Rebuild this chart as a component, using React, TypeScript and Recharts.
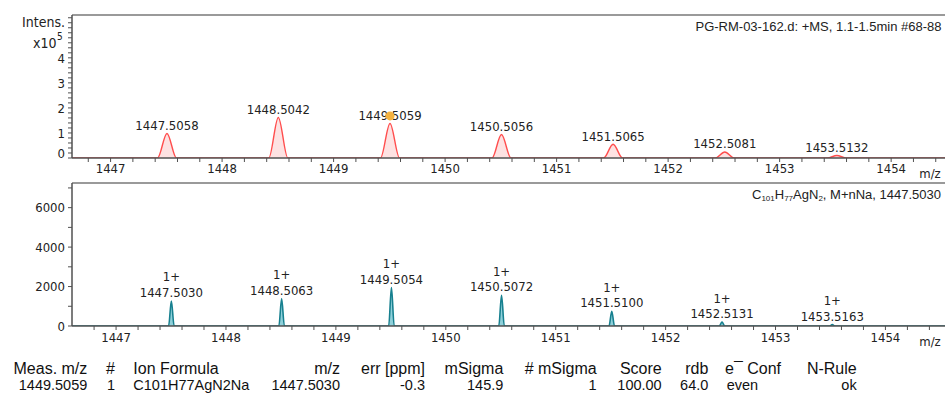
import React from 'react';
import {
  ComposedChart, Area, Scatter, XAxis, YAxis, ReferenceLine, ReferenceDot,
} from 'recharts';

// measured spectrum (+MS), intensity in x10^5
const MEAS_MZ = [1447.5058, 1448.5042, 1449.5059, 1450.5056, 1451.5065, 1452.5081, 1453.5132];
const MEAS_INT = [0.98, 1.62, 1.38, 0.94, 0.55, 0.24, 0.1];

// simulated isotope pattern C101H77AgN2Na
const SIM_MZ = [1447.503, 1448.5063, 1449.5054, 1450.5072, 1451.51, 1452.5131, 1453.5163];
const SIM_INT = [1270, 1390, 1950, 1560, 750, 200, 70];
const SIM_CHARGE = ['1+', '1+', '1+', '1+', '1+', '1+', '1+'];

const MZ_LABELS = [1447, 1448, 1449, 1450, 1451, 1452, 1453, 1454];
const MEAS_Y_LABELS = [0, 1, 2, 3, 4];
const SIM_Y_LABELS = [0, 2000, 4000, 6000];

const TABLE_HEAD = ['Meas. m/z', '#', 'Ion Formula', 'm/z', 'err [ppm]', 'mSigma', '# mSigma', 'Score', 'rdb', 'e\u00AF Conf', 'N-Rule'];
const TABLE_ROW = ['1449.5059', '1', 'C101H77AgN2Na', '1447.5030', '-0.3', '145.9', '1', '100.00', '64.0', 'even', 'ok'];

// column anchors (layout only)
const COL_X = [87.3, 115, 133.3, 340, 425, 503.3, 596.7, 661.7, 708.3, 725, 856.7];
const COL_ANCHOR = ['end', 'end', 'start', 'end', 'end', 'end', 'end', 'end', 'end', 'start', 'end'];

const MEAS_X_DOMAIN = [1446.654, 1454.483];
const SIM_X_DOMAIN = [1446.599, 1454.542];
const MEAS_Y_MAX = 5.71;
const SIM_Y_MAX = 7250;

const TICK_FONT = '"DejaVu Sans Condensed", "DejaVu Sans", sans-serif';
const TABLE_FONT = '"Liberation Sans", Arial, sans-serif';

function profile(mz: number[], inten: number[], half: number, dom: number[]) {
  const pts: { mz: number; v: number }[] = [{ mz: dom[0], v: 0 }];
  mz.forEach((m, i) => {
    pts.push({ mz: m - half, v: 0 }, { mz: m, v: inten[i] }, { mz: m + half, v: 0 });
  });
  pts.push({ mz: dom[1], v: 0 });
  return pts;
}

function steps(from: number, to: number, step: number) {
  const out: number[] = [];
  for (let v = from; v <= to + 1e-9; v += step) out.push(Math.round(v * 1000) / 1000);
  return out;
}

const measData = profile(MEAS_MZ, MEAS_INT, 0.085, MEAS_X_DOMAIN);
const simData = profile(SIM_MZ, SIM_INT, 0.025, SIM_X_DOMAIN);
const measApex = MEAS_MZ.map((m, i) => ({ mz: m, v: MEAS_INT[i], label: m.toFixed(4) }));
const simApex = SIM_MZ.map((m, i) => ({ mz: m, v: SIM_INT[i], label: m.toFixed(4), charge: SIM_CHARGE[i] }));

const isInt = (v: number) => Math.abs(v - Math.round(v)) < 1e-6;

const xTick = (dy: number) => (props: any) => {
  const { x, y, payload } = props;
  if (!isInt(payload.value) || !MZ_LABELS.includes(Math.round(payload.value))) return <g />;
  return (
    <text x={x} y={y} dy={dy} textAnchor="middle" fontSize={13} fill="#222" fontFamily={TICK_FONT}>
      {Math.round(payload.value)}
    </text>
  );
};

const yTick = (labels: number[], zeroShift: number) => (props: any) => {
  const { x, y, payload } = props;
  if (!labels.includes(payload.value)) return <g />;
  return (
    <text x={x - 1} y={y + (payload.value === 0 ? zeroShift : 0)} dy={4.7} textAnchor="end"
      fontSize={13} fill="#222" fontFamily={TICK_FONT}>
      {payload.value}
    </text>
  );
};

const measLabel = (props: any) => {
  const { cx, cy, payload } = props;
  return (
    <text x={cx} y={cy - 3.5} textAnchor="middle" fontSize={13} fill="#222" fontFamily={TICK_FONT}>
      {payload.label}
    </text>
  );
};

const simLabel = (props: any) => {
  const { cx, cy, payload } = props;
  return (
    <g>
      <text x={cx} y={cy - 19.5} textAnchor="middle" fontSize={13} fill="#222" fontFamily={TICK_FONT}>
        {payload.charge}
      </text>
      <text x={cx} y={cy - 4} textAnchor="middle" fontSize={13} fill="#222" fontFamily={TICK_FONT}>
        {payload.label}
      </text>
    </g>
  );
};

const AXIS = { stroke: '#505050', strokeWidth: 1.5 };
const TICKLINE = { stroke: '#505050' };

export default function App() {
  return (
    <div style={{ position: 'absolute', left: 0, top: 0, width: 945, height: 393, background: '#fff', overflow: 'hidden' }}>
      {/* measured spectrum */}
      <div style={{ position: 'absolute', left: 0, top: 0 }}>
        <ComposedChart width={945} height={185} data={measData} margin={{ top: 15, right: 0, bottom: 0, left: 0 }}>
          <XAxis dataKey="mz" type="number" domain={MEAS_X_DOMAIN} allowDataOverflow height={27}
            ticks={steps(1446.8, 1454.4, 0.2)} interval={0} tickSize={4} tickMargin={2}
            axisLine={AXIS} tickLine={TICKLINE} tick={xTick(9)} />
          <YAxis type="number" domain={[0, MEAS_Y_MAX]} allowDataOverflow width={72}
            ticks={steps(0, 5.6, 0.2)} interval={0} tickSize={4} tickMargin={2}
            axisLine={AXIS} tickLine={TICKLINE} tick={yTick(MEAS_Y_LABELS, -5)} />
          <ReferenceLine y={MEAS_Y_MAX} stroke="#9a9a9a" strokeWidth={2} />
          <Area type="monotone" dataKey="v" stroke="#ff4d4d" strokeWidth={1.4} fill="#fde2e2" fillOpacity={1}
            dot={false} activeDot={false} isAnimationActive={false} />
          <Scatter data={measApex} dataKey="v" shape={measLabel} isAnimationActive={false} />
          <ReferenceDot x={MEAS_MZ[2]} y={MEAS_INT[2]} r={4.5} fill="#f4b23f" stroke="none"
            shape={(p: any) => <circle cx={p.cx} cy={p.cy - 7.5} r={4.5} fill="#f4b23f" />} />
        </ComposedChart>
      </div>

      {/* simulated pattern */}
      <div style={{ position: 'absolute', left: 0, top: 168 }}>
        <ComposedChart width={945} height={185} data={simData} margin={{ top: 15, right: 0, bottom: 0, left: 0 }}>
          <XAxis dataKey="mz" type="number" domain={SIM_X_DOMAIN} allowDataOverflow height={27}
            ticks={steps(1446.8, 1454.4, 0.2)} interval={0} tickSize={4} tickMargin={2}
            axisLine={AXIS} tickLine={TICKLINE} tick={xTick(10)} />
          <YAxis type="number" domain={[0, SIM_Y_MAX]} allowDataOverflow width={72}
            ticks={steps(0, 7000, 1000)} interval={0} tickSize={4} tickMargin={2}
            axisLine={AXIS} tickLine={TICKLINE} tick={yTick(SIM_Y_LABELS, 0)} />
          <ReferenceLine y={SIM_Y_MAX} stroke="#9a9a9a" strokeWidth={2} />
          <Area type="monotone" dataKey="v" stroke="#17808f" strokeWidth={1.6} fill="#8fd0da" fillOpacity={1}
            dot={false} activeDot={false} isAnimationActive={false} />
          <Scatter data={simApex} dataKey="v" shape={simLabel} isAnimationActive={false} />
        </ComposedChart>
      </div>

      {/* annotations and result table */}
      <svg width={945} height={393} style={{ position: 'absolute', left: 0, top: 0, pointerEvents: 'none' }}>
        <text x={65} y={27} textAnchor="end" fontSize={14} fill="#222" fontFamily={TICK_FONT}>Intens.</text>
        <text x={56.5} y={48.3} textAnchor="end" fontSize={14} fill="#222" fontFamily={TICK_FONT}>x10</text>
        <text x={57} y={40} fontSize={10} fill="#222" fontFamily={TICK_FONT}>5</text>
        <text x={930} y={177.5} textAnchor="middle" fontSize={13} fill="#222" fontFamily={TICK_FONT}>m/z</text>
        <text x={930} y={346} textAnchor="middle" fontSize={13} fill="#222" fontFamily={TICK_FONT}>m/z</text>
        <text x={941.5} y={30.7} textAnchor="end" fontSize={13} fill="#222" fontFamily={TABLE_FONT}>
          PG-RM-03-162.d: +MS, 1.1-1.5min #68-88
        </text>
        <text x={941} y={198.7} textAnchor="end" fontSize={13} fill="#222" fontFamily={TABLE_FONT}>
          C<tspan fontSize={8} dy={2}>101</tspan>
          <tspan dy={-2}>H</tspan><tspan fontSize={8} dy={2}>77</tspan>
          <tspan dy={-2}>AgN</tspan><tspan fontSize={8} dy={2}>2</tspan>
          <tspan dy={-2}>, M+nNa, 1447.5030</tspan>
        </text>
        {TABLE_HEAD.map((h, i) => (
          <text key={'h' + i} x={COL_X[i]} y={373.5} textAnchor={COL_ANCHOR[i] as any}
            fontSize={16} fill="#111" fontFamily={TABLE_FONT}>{h}</text>
        ))}
        {TABLE_ROW.map((v, i) => (
          <text key={'r' + i} x={COL_X[i] + (i === 9 ? 1.7 : 0)} y={390} textAnchor={COL_ANCHOR[i] as any}
            fontSize={14.5} fill="#111" fontFamily={TABLE_FONT}>{v}</text>
        ))}
      </svg>
    </div>
  );
}
